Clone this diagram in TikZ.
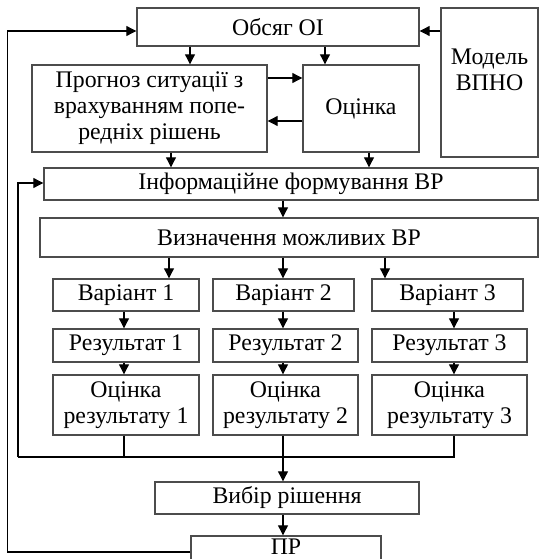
\documentclass[tikz,border=0pt]{standalone}
\usepackage{fontspec}
\setmainfont{Liberation Serif}
\usetikzlibrary{arrows.meta}
\begin{document}
\begin{tikzpicture}[x=1pt,y=-1pt,
  box/.style={draw=black!70, line width=1.4pt, fill=white, inner sep=0pt, align=center,
    font=\fontsize{23.8}{26}\selectfont},
  txt/.style={inner sep=0pt, align=center, font=\fontsize{23.8}{26}\selectfont},
  arr/.style={line width=1.1pt, -{Triangle[length=10pt,width=10pt]}},
  ln/.style={line width=1.1pt}]
\useasboundingbox (0,0) rectangle (539,559);
% boxes
\node[box, minimum width=282pt, minimum height=38pt] (obs) at (278,27) {Обсяг ОІ};
\node[box, minimum width=97pt, minimum height=149pt] (model) at (489.5,82.5) {};
\node[txt] (modeltext) at (489.5,70) {Модель\\ВПНО};
\node[box, minimum width=235pt, minimum height=87pt] (prog) at (149.5,108.5) {Прогноз ситуації з\\врахуванням попе-\\редніх рішень};
\node[box, minimum width=116pt, minimum height=87pt] (ocin) at (361,108.5) {Оцінка};
\node[box, minimum width=494pt, minimum height=32pt] (info) at (291,184) {Інформаційне формування ВР};
\node[box, minimum width=498pt, minimum height=39pt] (vyzn) at (289,237.5) {Визначення можливих ВР};
\node[box, minimum width=146pt, minimum height=32pt] (v1) at (126,295) {Варіант 1};
\node[box, minimum width=141pt, minimum height=32pt] (v2) at (283.5,295) {Варіант 2};
\node[box, minimum width=151pt, minimum height=32pt] (v3) at (447.5,295) {Варіант 3};
\node[box, minimum width=146pt, minimum height=33pt] (r1) at (126,345.5) {Результат 1};
\node[box, minimum width=145pt, minimum height=33pt] (r2) at (285.5,345.5) {Результат 2};
\node[box, minimum width=155pt, minimum height=33pt] (r3) at (449.5,345.5) {Результат 3};
\node[box, minimum width=146pt, minimum height=60pt] (o1) at (126,405) {Оцінка\\результату 1};
\node[box, minimum width=145pt, minimum height=60pt] (o2) at (285.5,405) {Оцінка\\результату 2};
\node[box, minimum width=155pt, minimum height=60pt] (o3) at (449.5,405) {Оцінка\\результату 3};
\node[box, minimum width=264pt, minimum height=32pt] (vybir) at (287,498) {Вибір рішення};
\node[box, minimum width=190pt, minimum height=40pt] (pr) at (286,556) {};
\node[txt] (prtext) at (286,547) {ПР};
% connectors
\draw[arr] (190,0 |- obs.south) -- (190,0 |- prog.north);
\draw[arr] (325,0 |- obs.south) -- (325,0 |- ocin.north);
\draw[arr] (prog.east |- 0,78) -- (ocin.west |- 0,78);
\draw[arr] (ocin.west |- 0,121) -- (prog.east |- 0,121);
\draw[arr] (model.west |- 0,31) -- (obs.east |- 0,31);
\draw[arr] (171,0 |- prog.south) -- (171,0 |- info.north);
\draw[arr] (369,0 |- ocin.south) -- (369,0 |- info.north);
\draw[arr] (283,0 |- info.south) -- (283,0 |- vyzn.north);
\draw[arr] (169,0 |- vyzn.south) -- (169,0 |- v1.north);
\draw[arr] (283,0 |- vyzn.south) -- (283,0 |- v2.north);
\draw[arr] (385,0 |- vyzn.south) -- (385,0 |- v3.north);
\draw[arr] (124,0 |- v1.south) -- (124,0 |- r1.north);
\draw[arr] (283,0 |- v2.south) -- (283,0 |- r2.north);
\draw[arr] (454,0 |- v3.south) -- (454,0 |- r3.north);
\draw[arr] (124,0 |- r1.south) -- (124,0 |- o1.north);
\draw[arr] (283,0 |- r2.south) -- (283,0 |- o2.north);
\draw[arr] (454,0 |- r3.south) -- (454,0 |- o3.north);
\coordinate (j1) at (124,457);
\coordinate (j3) at (454,457);
\coordinate (jl) at (18,457);
\draw[ln] (124,0 |- o1.south) -- (j1);
\draw[ln] (454,0 |- o3.south) -- (j3) -- (jl);
\draw[arr] (jl) -- (18,183) -- (info.west |- 0,183);
\draw[arr] (283,0 |- o2.south) -- (283,0 |- vybir.north);
\draw[arr] (283,0 |- vybir.south) -- (283,0 |- pr.north);
\coordinate (fb) at (7.5,552);
\draw[arr] (pr.west |- 0,552) -- (fb) -- (7.5,31) -- (obs.west |- 0,31);
\end{tikzpicture}
\end{document}
